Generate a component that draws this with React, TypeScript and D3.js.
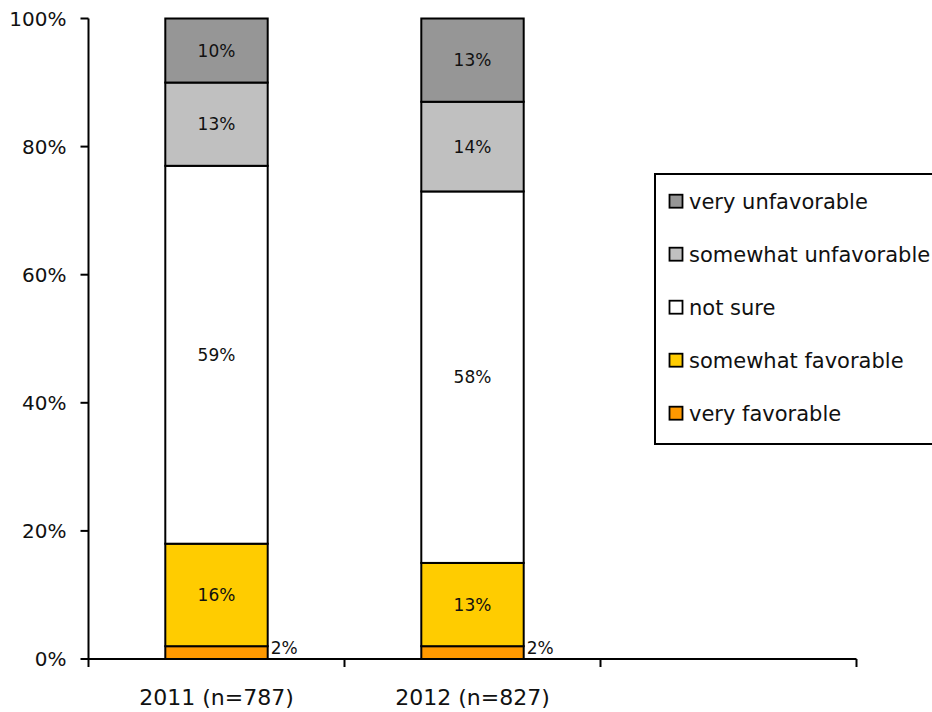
import React from "react";
import * as d3 from "d3";

// Survey years (third slot intentionally left empty on the axis)
const categories = ["2011 (n=787)", "2012 (n=827)", ""];
const seriesNames = [
  "very favorable",
  "somewhat favorable",
  "not sure",
  "somewhat unfavorable",
  "very unfavorable",
];
const seriesColors = ["#FF9900", "#FFCC00", "#FFFFFF", "#C0C0C0", "#969696"];
const values2011 = [2, 16, 59, 13, 10];
const values2012 = [2, 13, 58, 14, 13];
const yTicks = [0, 20, 40, 60, 80, 100];

const W = 932;
const H = 712;
const FONT = "'DejaVu Sans', sans-serif";

export default function App() {
  const rows = [values2011, values2012].map((vals, i) => {
    const r: Record<string, any> = { cat: categories[i] };
    seriesNames.forEach((s, j) => (r[s] = vals[j]));
    return r;
  });

  const x = d3
    .scaleBand<string>()
    .domain(categories)
    .range([88.5, 856.5])
    .paddingInner(0.6)
    .paddingOuter(0.3);
  const y = d3.scaleLinear().domain([0, 100]).range([659, 18.5]);

  const stacked = d3.stack<any>().keys(seriesNames)(rows);
  const step = x.step();
  const x0 = 88.5;

  const legendX = 655;
  const legendY = 174;
  const rowGap = 53;

  return (
    <svg
      width={W}
      height={H}
      style={{ position: "absolute", left: 0, top: 0, background: "#fff" }}
      fontFamily={FONT}
    >
      {/* stacked bars */}
      {stacked.map((layer, li) =>
        layer.map((d, di) => {
          const bx = x(d.data.cat as string)!;
          const bw = x.bandwidth();
          const top = y(d[1]);
          const bot = y(d[0]);
          const v = d[1] - d[0];
          const small = v < 5;
          return (
            <g key={`${li}-${di}`}>
              <rect
                x={bx}
                y={top}
                width={bw}
                height={bot - top}
                fill={seriesColors[li]}
                stroke="#000"
                strokeWidth={2}
              />
              <text
                x={small ? bx + bw + 3 : bx + bw / 2}
                y={small ? top + 2 : (top + bot) / 2}
                textAnchor={small ? "start" : "middle"}
                dominantBaseline="central"
                fontSize={17}
                fill="#111"
              >
                {`${v}%`}
              </text>
            </g>
          );
        })
      )}

      {/* y axis */}
      <line x1={x0} x2={x0} y1={y(100)} y2={y(0)} stroke="#000" strokeWidth={2} />
      {yTicks.map((t) => (
        <g key={t}>
          <line x1={x0 - 8} x2={x0} y1={y(t)} y2={y(t)} stroke="#000" strokeWidth={2} />
          <text
            x={x0 - 22}
            y={y(t)}
            textAnchor="end"
            dominantBaseline="central"
            fontSize={20}
            fill="#111"
          >
            {`${t}%`}
          </text>
        </g>
      ))}

      {/* x axis */}
      <line x1={x0} x2={x0 + step * categories.length} y1={y(0)} y2={y(0)} stroke="#000" strokeWidth={2} />
      {d3.range(categories.length + 1).map((i) => (
        <line
          key={i}
          x1={x0 + i * step}
          x2={x0 + i * step}
          y1={y(0)}
          y2={y(0) + 8}
          stroke="#000"
          strokeWidth={2}
        />
      ))}
      {categories.map((c) => (
        <text
          key={c || "blank"}
          x={x(c)! + x.bandwidth() / 2}
          y={697}
          textAnchor="middle"
          dominantBaseline="central"
          fontSize={22}
          fill="#111"
        >
          {c}
        </text>
      ))}

      {/* legend */}
      <rect x={legendX} y={legendY} width={300} height={270} fill="#fff" stroke="#000" strokeWidth={2} />
      {seriesNames
        .map((s, i) => ({ s, c: seriesColors[i] }))
        .reverse()
        .map((item, i) => {
          const cy = 201.7 + i * rowGap;
          return (
            <g key={item.s}>
              <rect x={669.5} y={cy - 7} width={13} height={13} fill={item.c} stroke="#000" strokeWidth={1.8} />
              <text x={689} y={cy} dominantBaseline="central" fontSize={21} fill="#111">
                {item.s}
              </text>
            </g>
          );
        })}
    </svg>
  );
}
